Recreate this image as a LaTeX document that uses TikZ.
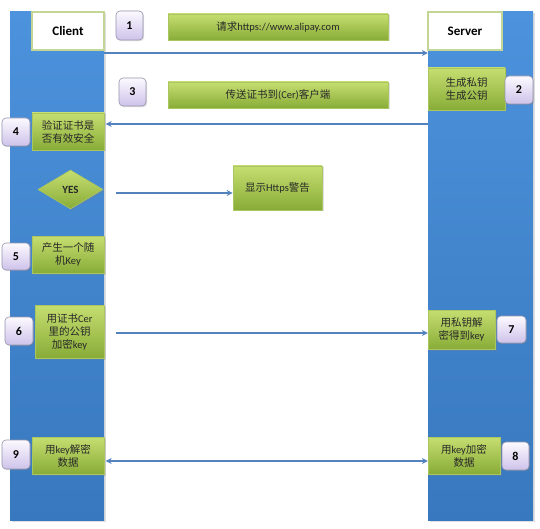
\documentclass[tikz,border=0pt]{standalone}
\usepackage{fontspec}
\setmainfont{Carlito}
\newfontfamily\cjk{Noto Sans CJK SC}
\usetikzlibrary{shapes.geometric,shadows,arrows.meta}
\newcommand\zh[1]{{\cjk #1}}
\definecolor{coltop}{RGB}{76,146,220}
\definecolor{colbot}{RGB}{56,120,190}
\definecolor{gtop}{RGB}{198,222,112}
\definecolor{gbot}{RGB}{136,172,56}
\definecolor{gline}{RGB}{170,198,96}
\definecolor{btop}{RGB}{252,250,255}
\definecolor{bbot}{RGB}{206,194,234}
\definecolor{bline}{RGB}{150,148,172}
\definecolor{arrc}{RGB}{84,130,188}
\definecolor{hline}{RGB}{196,214,150}
\definecolor{txt}{RGB}{40,40,40}
\tikzset{
  column/.style={draw=none, top color=coltop, bottom color=colbot, inner sep=0,
    drop shadow={shadow xshift=1.5pt, shadow yshift=-1.5pt, opacity=0.25}},
  header/.style={draw=hline, line width=1.4pt, fill=white, inner sep=0,
    font=\bfseries\fontsize{13}{15}\selectfont},
  gbox/.style={draw=gline, line width=0.6pt, top color=gtop, bottom color=gbot,
    inner sep=0, align=center, text=txt, font=\fontsize{10.5}{13}\selectfont,
    drop shadow={shadow xshift=1.5pt, shadow yshift=-1.5pt, opacity=0.25}},
  badge/.style={draw=bline, line width=0.6pt, rounded corners=4pt, top color=btop,
    bottom color=bbot, inner sep=0, font=\bfseries\fontsize{12}{14}\selectfont,
    drop shadow={shadow xshift=1.2pt, shadow yshift=-1.2pt, opacity=0.25}},
  arr/.style={draw=arrc, line width=1.3pt, -{Stealth[length=6pt,width=6pt]}},
  darr/.style={draw=arrc, line width=1.3pt, {Stealth[length=6pt,width=6pt]}-{Stealth[length=6pt,width=6pt]}}
}
\begin{document}
\begin{tikzpicture}[x=1pt,y=-1pt]
\useasboundingbox[fill=white] (0,0) rectangle (540,529);
% columns
\node[column, minimum width=94pt, minimum height=508pt] (lcol) at (57,266) {};
\node[column, minimum width=105pt, minimum height=508pt] (rcol) at (480.5,266) {};
% headers
\node[header, minimum width=72pt, minimum height=38pt] (client) at (68,31) {Client};
\node[header, minimum width=74pt, minimum height=38pt] (server) at (465,31) {Server};
% step 1
\node[badge, minimum width=27pt, minimum height=29pt] (b1) at (129.5,25.5) {1};
\node[gbox, minimum width=220pt, minimum height=26pt] (l1) at (278,27) {\zh{请求}https://www.alipay.com};
% step 2
\node[gbox, minimum width=77pt, minimum height=42pt] (n2) at (466.5,89) {\zh{生成私钥}\\\zh{生成公钥}};
\node[badge, minimum width=28pt, minimum height=28pt] (b2) at (519,90) {2};
% step 3
\node[badge, minimum width=27pt, minimum height=28pt] (b3) at (132.5,92) {3};
\node[gbox, minimum width=220pt, minimum height=26pt] (l3) at (278,95) {\zh{传送证书到}(Cer)\zh{客户端}};
% step 4
\node[gbox, minimum width=72pt, minimum height=37pt] (n4) at (68,131.5) {\zh{验证证书是}\\\zh{否有效安全}};
\node[badge, minimum width=28pt, minimum height=28pt] (b4) at (16,132) {4};
% yes / warning
\node[diamond, draw=gline, line width=0.6pt, top color=gtop, bottom color=gbot,
  minimum width=65pt, minimum height=39pt, aspect=1.67, inner sep=0,
  font=\bfseries\fontsize{11}{13}\selectfont, text=txt,
  drop shadow={shadow xshift=1.5pt, shadow yshift=-1.5pt, opacity=0.25}] (yes) at (70.5,189.5) {YES};
\node[gbox, minimum width=89pt, minimum height=44pt] (warn) at (277.5,188) {\zh{显示}Https\zh{警告}};
% step 5
\node[gbox, minimum width=72pt, minimum height=37pt] (n5) at (68,254.5) {\zh{产生一个随}\\\zh{机}Key};
\node[badge, minimum width=28pt, minimum height=27pt] (b5) at (16,256.5) {5};
% step 6
\node[gbox, minimum width=69pt, minimum height=53pt] (n6) at (69.5,331.5) {\zh{用证书}Cer\\\zh{里的公钥}\\\zh{加密}key};
\node[badge, minimum width=28pt, minimum height=28pt] (b6) at (19,331) {6};
% step 7
\node[gbox, minimum width=67pt, minimum height=39pt] (n7) at (461.5,329.5) {\zh{用私钥解}\\\zh{密得到}key};
\node[badge, minimum width=29pt, minimum height=27pt] (b7) at (511.5,329.5) {7};
% step 9
\node[gbox, minimum width=72pt, minimum height=37pt] (n9) at (68,455.5) {\zh{用}key\zh{解密}\\\zh{数据}};
\node[badge, minimum width=28pt, minimum height=29pt] (b9) at (16,454.5) {9};
% step 8
\node[gbox, minimum width=72pt, minimum height=37pt] (n8) at (464,455.5) {\zh{用}key\zh{加密}\\\zh{数据}};
\node[badge, minimum width=27pt, minimum height=28pt] (b8) at (515.5,456) {8};
% connectors
\coordinate (y1) at (0,53);
\coordinate (y3) at (0,124);
\coordinate (yy) at (0,193);
\coordinate (y6) at (0,333);
\coordinate (y9) at (0,461);
\draw[arr] (y1 -| lcol.east) -- (y1 -| rcol.west);
\draw[arr] (y3 -| rcol.west) -- ([xshift=1.5pt]y3 -| lcol.east);
\draw[arr, shorten <=13pt] (yy -| yes.east) -- (yy -| warn.west);
\draw[arr, shorten <=12pt] (y6 -| n6.east) -- (y6 -| rcol.west);
\draw[darr] ([xshift=1.5pt]y9 -| lcol.east) -- (y9 -| rcol.west);
\end{tikzpicture}
\end{document}
